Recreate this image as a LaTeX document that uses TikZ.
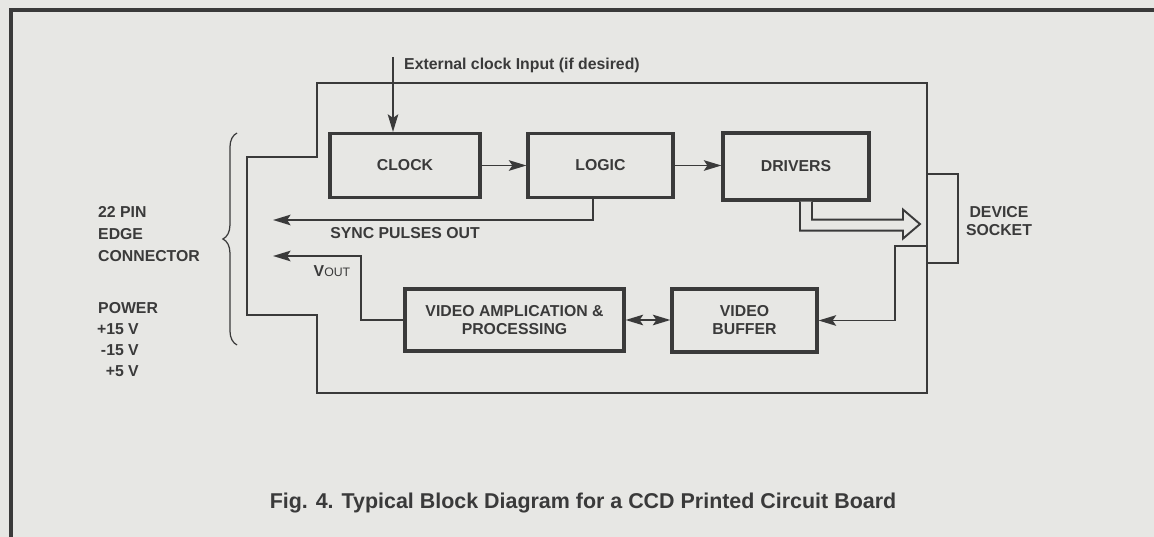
\documentclass[tikz,border=0pt]{standalone}
\usepackage{fontspec}
\setmainfont{Liberation Sans}
\usepackage{xcolor}
\usetikzlibrary{arrows.meta, decorations.pathreplacing}

\definecolor{ink}{RGB}{58,58,58}
\definecolor{paper}{RGB}{231,231,228}

\begin{document}
\begin{tikzpicture}[x=0.02cm, y=-0.02cm,
    font=\fontsize{9}{10.2}\selectfont\bfseries, color=ink, text=ink,
    blk/.style={draw=ink, line width=1.8pt, minimum height=1.28cm, inner sep=0pt, align=center},
    tip/.style={-{Stealth[length=10pt,width=6pt,inset=2pt]}},
    conn/.style={draw=ink, line width=1.1pt, tip},
    board/.style={draw=ink, line width=0.8pt}]

  % ── paper and frame ──
  \fill[paper] (0,0) rectangle (1154,537);
  \useasboundingbox (0,0) rectangle (1154,537);
  \draw[line width=2.3pt] (11,537) -- (11,10) -- (1154,10);

  % ── board outline ──
  \draw[board] (317,83) -- (927,83) -- (927,393) -- (317,393) -- (317,315)
    -- (247,315) -- (247,157) -- (317,157) -- cycle;
  \draw[board, line width=0.7pt, decorate, decoration={brace, amplitude=8pt}]
    (237,345) -- (237,133);

  % ── blocks ──
  \node[blk, minimum width=3cm] (clock) at (405,165.5) {CLOCK};
  \node[blk, minimum width=2.9cm] (logic) at (600.5,165.5) {LOGIC};
  \node[blk, minimum width=2.92cm, minimum height=1.34cm] (drivers) at (796,166.5) {DRIVERS};
  \node[blk, minimum width=4.38cm, minimum height=1.24cm] (vamp) at (514.5,320)
    {VIDEO AMPLICATION \&\\PROCESSING};
  \node[blk, minimum width=2.9cm, minimum height=1.26cm] (vbuf) at (744.5,320.5) {VIDEO\\BUFFER};

  % device socket
  \node[board, minimum width=0.62cm, minimum height=1.78cm, inner sep=0pt] (socket) at (942.5,218.5) {};
  \node[align=center] (socklbl) at (999,221) {DEVICE\\SOCKET};

  % ── connectors ──
  \coordinate (extin) at (393,57);
  \draw[conn, line width=0.9pt] (extin) -- (extin |- clock.north);
  \node[anchor=west] (extlbl) at (398,65) {External clock Input (if desired)};

  \draw[conn] (clock) -- (logic);
  \draw[conn] (logic.east) -- (logic.east -| drivers.west);

  \coordinate (synctap) at (593,0);
  \coordinate (syncout) at (273,220);
  \draw[conn] (synctap |- logic.south) |- (syncout);
  \node (synclbl) at (405,233) {SYNC PULSES OUT};

  \coordinate (voutend) at (273,256);
  \draw[conn] (vamp.west) -- ++(-42,0) |- (voutend);
  \node (voutlbl) at (332,271) {V{\fontsize{7}{7}\selectfont\mdseries OUT}};

  \draw[conn, {Stealth[length=10pt,width=6pt,inset=2pt]}-{Stealth[length=10pt,width=6pt,inset=2pt]}]
    (vamp.east) -- (vamp.east -| vbuf.west);

  \coordinate (sockin) at (927,246);
  \draw[conn] (sockin) -- ++(-32,0) |- (vbuf.east);

  % data bus to socket
  \begin{scope}[shift={(drivers.south)}]
    \draw[line width=1.1pt, fill=paper, line join=miter]
      (4,0) -- (4,29) -- (107,29) -- (107,37) -- (124,22.5) -- (107,8) -- (107,18) -- (16,18) -- (16,0);
  \end{scope}

  % ── edge connector labels ──
  \node[anchor=west, align=left, font=\fontsize{9}{12.5}\selectfont\bfseries] (pins) at (92,234)
    {22 PIN\\EDGE\\CONNECTOR};
  \node[anchor=west] (power) at (92,308) {POWER};
  \node[anchor=east, align=right, font=\fontsize{9}{12}\selectfont\bfseries] (volts) at (145,350.5)
    {+15 V\\-15 V\\+5 V};

  % caption
  \node[font=\fontsize{12.2}{14}\selectfont\bfseries] (caption) at (583,503)
    {Fig. 4. Typical Block Diagram for a CCD Printed Circuit Board};
\end{tikzpicture}
\end{document}
